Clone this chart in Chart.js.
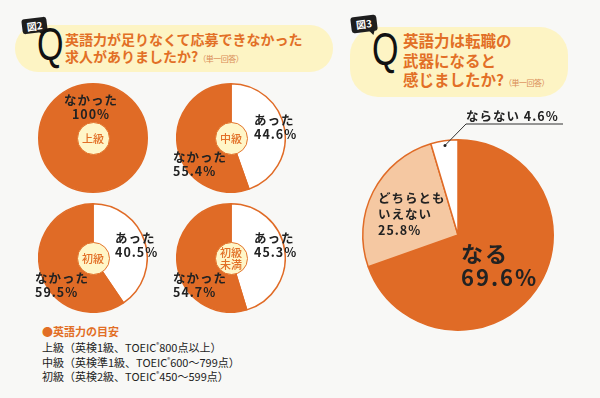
<!DOCTYPE html>
<html>
<head>
<meta charset="utf-8">
<script src="https://cdn.jsdelivr.net/npm/chart.js@4.4.0/dist/chart.umd.min.js"></script>
<style>
body { margin: 0; width: 600px; height: 398px; overflow: hidden; position: relative; background: #f8f8f6; font-family: "Noto Sans CJK JP", sans-serif; }
.band { position: absolute; background: #fdf4c4; }
.tag { position: absolute; background: #1e1e1e; color: #fff; font: 700 10px "Noto Sans CJK JP"; line-height: 15px; text-align: center; border-radius: 3px; transform: rotate(-7deg); }
.tag::after { content: ""; position: absolute; right: 3px; bottom: -4px; border-left: 4px solid transparent; border-right: 2px solid transparent; border-top: 5px solid #1e1e1e; }
.q { position: absolute; font: 400 46px "Liberation Sans"; line-height: 1; color: #111; transform: scaleX(0.74); transform-origin: left top; }
.ttl { position: absolute; color: #e26f26; font-weight: 700; white-space: nowrap; }
.ttl small { font-size: 8px; font-weight: 400; color: #d98a55; letter-spacing: -0.5px; }
.lbl { position: absolute; font-weight: 700; font-size: 12.5px; line-height: 14px; letter-spacing: 1px; color: #222; white-space: nowrap; }
.ctr { position: absolute; width: 33px; height: 33px; border-radius: 50%; background: #fff6c8; border: 1.5px solid #e2742c; box-sizing: border-box; color: #e26f26; font-size: 11px; line-height: 12px; display: flex; align-items: center; justify-content: center; text-align: center; font-weight: 500; }
.note { position: absolute; left: 42px; font-size: 11px; color: #222; white-space: nowrap; }
.note sup { font-size: 6px; vertical-align: 5px; }
canvas { position: absolute; }
</style>
</head>
<body>
<div class="band" style="left:15px;top:25px;width:318px;height:47px;border-radius:23px"></div>
<div class="band" style="left:350px;top:27px;width:218px;height:70px;border-radius:28px"></div>

<div class="tag" style="left:22px;top:18px;width:25px;height:15px">図2</div>
<div class="q" style="left:37px;top:21px">Q</div>
<div class="ttl" style="left:65px;top:31px;font-size:14px;line-height:17px">英語力が足りなくて応募できなかった<br>求人がありましたか?<small>（単一回答）</small></div>

<div class="tag" style="left:351px;top:16px;width:26px;height:16px">図3</div>
<div class="q" style="left:372px;top:26px">Q</div>
<div class="ttl" style="left:403px;top:31px;font-size:15.5px;line-height:19.5px">英語力は転職の<br>武器になると<br>感じましたか?<small>（単一回答）</small></div>

<div class="note" style="top:323px;color:#e26f26;font-weight:700">●英語力の目安</div>
<div class="note" style="top:339px">上級（英検1級、TOEIC<sup>®</sup>800点以上）</div>
<div class="note" style="top:354px">中級（英検準1級、TOEIC<sup>®</sup>600～799点）</div>
<div class="note" style="top:368px">初級（英検2級、TOEIC<sup>®</sup>450～599点）</div>

<canvas id="big" width="230" height="240" style="left:350px;top:100px"></canvas>

<script>
const answers = ["あった", "なかった"];
const levels = ["上級", "中級", "初級", "初級<br>未満"];
const levelValues = [
  [0, 100],
  [44.6, 55.4],
  [40.5, 59.5],
  [45.3, 54.7]
];
const weaponAnswers = ["なる", "どちらとも<br>いえない", "ならない"];
const weaponValues = [69.6, 25.8, 4.6];

const orange = "#e06b26";
const peach = "#f5c8a2";

// pie centres and label anchors (left, top) per answer
const pieCenters = [[93, 138], [231, 138], [93, 258], [231, 258]];
const labelPos = [
  [null, [91, 93, "c"]],
  [[254, 113], [173, 150]],
  [[115, 231], [35, 271]],
  [[254, 231], [173, 271]]
];
const R = 54;

levels.forEach((lv, i) => {
  const cv = document.createElement("canvas");
  const [cx, cy] = pieCenters[i];
  cv.width = 2 * R + 2; cv.height = 2 * R + 2;
  cv.style.left = (cx - R - 1) + "px";
  cv.style.top = (cy - R - 1) + "px";
  document.body.appendChild(cv);
  new Chart(cv, {
    type: "pie",
    data: {
      labels: answers,
      datasets: [{
        data: levelValues[i],
        backgroundColor: ["#ffffff", orange],
        borderColor: orange,
        borderWidth: levelValues[i].map(v => v > 0 ? 1.5 : 0)
      }]
    },
    options: {
      responsive: false, animation: false,
      layout: { padding: 0 },
      plugins: { legend: { display: false }, tooltip: { enabled: false } }
    }
  });

  const c = document.createElement("div");
  c.className = "ctr";
  c.style.left = (cx - 16.5) + "px";
  c.style.top = (cy - 16.5) + "px";
  c.innerHTML = lv;
  document.body.appendChild(c);

  answers.forEach((a, j) => {
    const p = labelPos[i][j];
    if (!p || levelValues[i][j] === 0) return;
    const d = document.createElement("div");
    d.className = "lbl";
    d.innerHTML = a + "<br>" + levelValues[i][j] + "%";
    d.style.left = p[0] + "px";
    d.style.top = p[1] + "px";
    if (p[2] === "c") { d.style.transform = "translateX(-50%)"; d.style.textAlign = "center"; }
    document.body.appendChild(d);
  });
});

// leader line for the small slice
const leader = {
  id: "leader",
  afterDraw(chart) {
    const arc = chart.getDatasetMeta(0).data[2];
    const mid = (arc.startAngle + arc.endAngle) / 2;
    const x0 = arc.x + Math.cos(mid) * arc.outerRadius * 0.95;
    const y0 = arc.y + Math.sin(mid) * arc.outerRadius * 0.95;
    const ctx = chart.ctx;
    ctx.save();
    ctx.strokeStyle = "#333";
    ctx.lineWidth = 1;
    ctx.beginPath();
    ctx.moveTo(x0, y0);
    ctx.lineTo(116, 24);
    ctx.lineTo(213, 24);
    ctx.stroke();
    ctx.fillStyle = "#222";
    ctx.beginPath();
    ctx.arc(x0, y0, 1.5, 0, Math.PI * 2);
    ctx.fill();
    ctx.restore();
  }
};

new Chart(document.getElementById("big"), {
  type: "pie",
  data: {
    labels: weaponAnswers,
    datasets: [{
      data: weaponValues,
      backgroundColor: [orange, peach, "#ffffff"],
      borderColor: orange,
      borderWidth: 1.5
    }]
  },
  options: {
    responsive: false, animation: false,
    layout: { padding: { left: 12, right: 26, top: 39, bottom: 9 } },
    plugins: { legend: { display: false }, tooltip: { enabled: false } }
  },
  plugins: [leader]
});

const bigLabels = [
  [461, 240, 22, 24],
  [378, 190, 12.5, 16],
  [466, 109, 12.5, 14]
];
weaponAnswers.forEach((a, j) => {
  const [x, y, fs, lh] = bigLabels[j];
  const d = document.createElement("div");
  d.className = "lbl";
  d.innerHTML = a + (j === 2 ? " " : "<br>") + weaponValues[j] + "%";
  d.style.left = x + "px";
  d.style.top = y + "px";
  d.style.fontSize = fs + "px";
  d.style.lineHeight = lh + "px";
  if (j === 0) d.style.letterSpacing = "2px";
  document.body.appendChild(d);
});
</script>
</body>
</html>
